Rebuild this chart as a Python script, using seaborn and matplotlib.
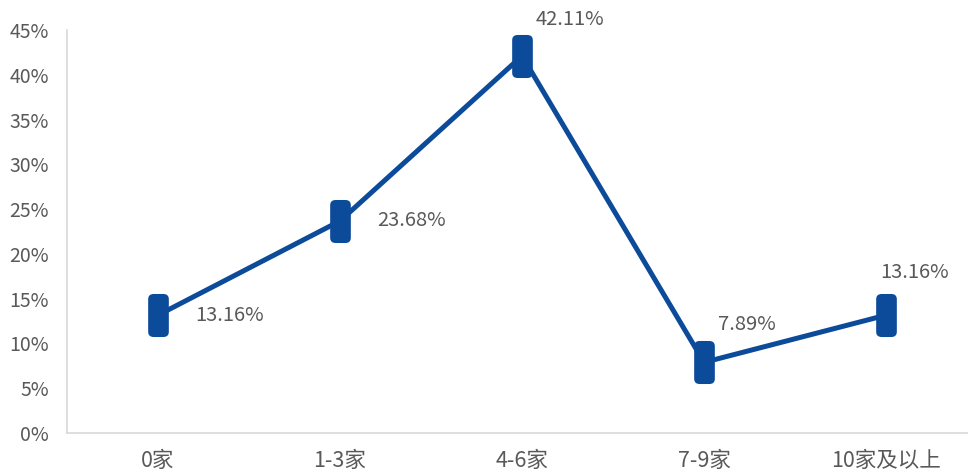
import numpy as np
import pandas as pd
import matplotlib
matplotlib.use("Agg")
import matplotlib.pyplot as plt
from matplotlib.path import Path
import seaborn as sns

categories = ["0家", "1-3家", "4-6家", "7-9家", "10家及以上"]
shares = [13.16, 23.68, 42.11, 7.89, 13.16]
labels = ["13.16%", "23.68%", "42.11%", "7.89%", "13.16%"]

df = pd.DataFrame({"cat": categories, "share": np.array(shares) / 100})
df["pos"] = range(len(df))

sns.set_style("white")
plt.rcParams["font.family"] = ["Noto Sans CJK SC", "DejaVu Sans"]

line_color = "#0C4A9A"
text_color = "#595959"

# barrel shaped marker
w, h, rx, ry = 0.24, 0.5, 0.13, 0.12
verts = [(-w + rx, -h), (w - rx, -h), (w, -h), (w, -h + ry), (w, h - ry), (w, h), (w - rx, h),
         (-w + rx, h), (-w, h), (-w, h - ry), (-w, -h + ry), (-w, -h), (-w + rx, -h), (-w + rx, -h)]
codes = [Path.MOVETO, Path.LINETO, Path.CURVE3, Path.CURVE3, Path.LINETO, Path.CURVE3, Path.CURVE3,
         Path.LINETO, Path.CURVE3, Path.CURVE3, Path.LINETO, Path.CURVE3, Path.CURVE3, Path.CLOSEPOLY]
pill = Path(verts, codes)

fig = plt.figure(figsize=(9.68, 4.75), dpi=100)
ax = fig.add_axes([67 / 968, 1 - 433 / 475, 1 - 67 / 968, 403 / 475])

sns.lineplot(data=df, x="pos", y="share", ax=ax, color=line_color, linewidth=3.6,
             marker=pill, markersize=31, markeredgewidth=0, markerfacecolor=line_color)

# label offsets in pixels (dx, dy)
offsets = [(37, 0), (37, 0), (14, 36), (14, 38), (-6, 43)]
for i, (v, lab) in enumerate(zip(df["share"], labels)):
    dx, dy = offsets[i]
    ax.annotate(lab, (i, v), xytext=(dx * 0.72, dy * 0.72), textcoords="offset points",
                ha="left", va="center", fontsize=14.5, color=text_color)

ax.set_xlim(-0.5, 4.45)
ax.set_ylim(0, 0.45)
ax.set_yticks(np.arange(0, 0.46, 0.05))
ax.set_yticklabels([f"{int(round(t * 100))}%" for t in np.arange(0, 0.46, 0.05)])
ax.set_xticks(df["pos"])
ax.set_xticklabels(categories)
ax.set_xlabel("")
ax.set_ylabel("")

for s in ["top", "right"]:
    ax.spines[s].set_visible(False)
for s in ["left", "bottom"]:
    ax.spines[s].set_color("#D9D9D9")
    ax.spines[s].set_linewidth(1.2)

ax.tick_params(axis="y", direction="in", length=4, width=1, color="#D9D9D9",
               labelsize=14, labelcolor=text_color, pad=13)
ax.tick_params(axis="x", length=0, labelsize=15.5, labelcolor=text_color, pad=12)
ax.grid(False)

fig.savefig("out.png", dpi=100)
